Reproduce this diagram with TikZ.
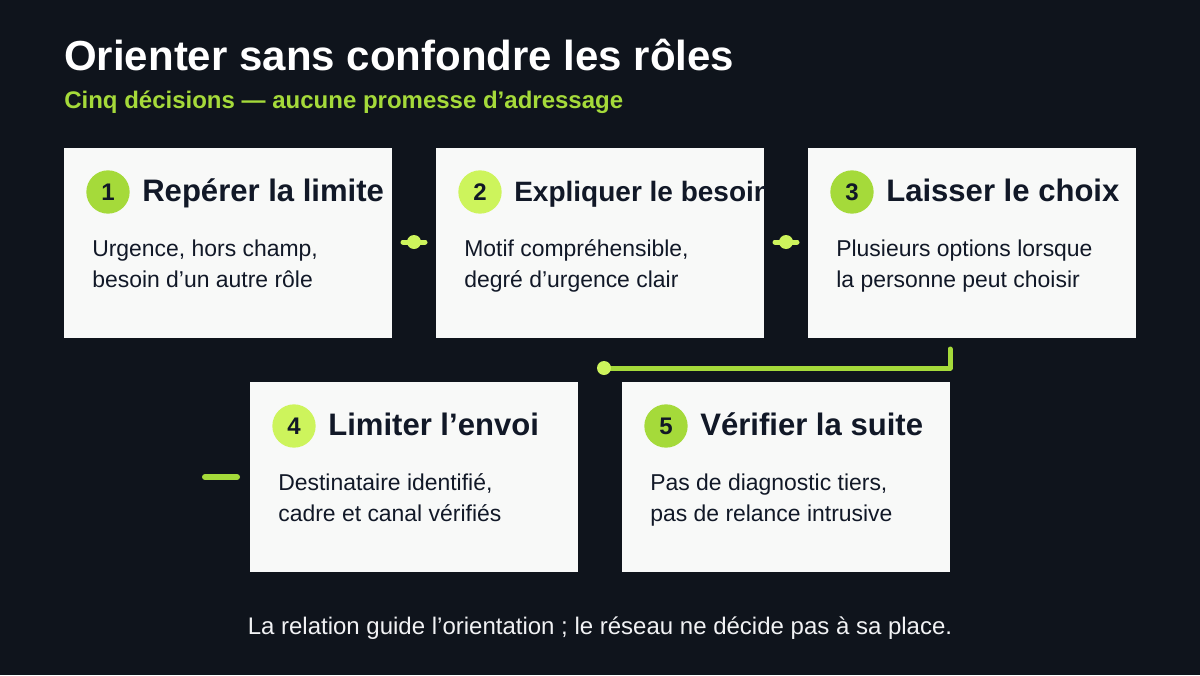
\documentclass[tikz,border=0pt]{standalone}
\usepackage{fontspec}
\setmainfont{Liberation Sans}
\usetikzlibrary{positioning}

\definecolor{bgnavy}{HTML}{0F141C}
\definecolor{cardwhite}{HTML}{F8F9F8}
\definecolor{inkdark}{HTML}{111827}
\definecolor{limedark}{HTML}{A5DA3A}
\definecolor{limelight}{HTML}{CDF45C}
\definecolor{footgray}{HTML}{F1F2F4}

\tikzset{every picture/.style={line width=0.45pt},
  card/.style={fill=cardwhite, draw=none, inner sep=0pt, minimum width=246pt, minimum height=142.5pt, anchor=north west},
  badge/.style={circle, inner sep=0pt, minimum size=32.5pt, text=inkdark, font=\fontsize{18}{18}\selectfont\bfseries},
  steptitle/.style={anchor=base west, inner sep=0pt, text=inkdark, font=\fontsize{23.3}{23.3}\selectfont\bfseries},
  stepbody/.style={anchor=base west, inner sep=0pt, text=inkdark, font=\fontsize{17.2}{17.2}\selectfont},
  link/.style={line width=3.75pt, line cap=round, line join=round},
  linkdot/.style={circle, inner sep=0pt, minimum size=10.5pt, fill=limelight}
}

\begin{document}
\begin{tikzpicture}[x=0.75pt,y=0.75pt,yscale=-1,xscale=1]
%background, sets the 1200 x 675 frame
\path [fill=bgnavy] (0,0) rectangle (1200,675);

% Title Nodes
\node (title) [anchor=base west, inner sep=0pt, text=white, font=\fontsize{31.5}{31.5}\selectfont\bfseries] at (64,70) {Orienter sans confondre les rôles};
\node (subtitle) [anchor=base west, inner sep=0pt, text=limedark, font=\fontsize{18}{18}\selectfont\bfseries] at (64,108) {Cinq décisions — aucune promesse d’adressage};

% Cards
\node (b1) [card] at (64,148) {};
\node (b2) [card] at (436,148) {};
\node (b3) [card] at (808,148) {};
\node (b4) [card] at (250,382) {};
\node (b5) [card] at (622,382) {};

% Connectors
\coordinate (c12a) at (403,242);
\coordinate (c12b) at (425,242);
\draw [link, limelight] (c12a) -- (c12b);
\node (d12) [linkdot] at (414,242) {};
\coordinate (c23a) at (775,242);
\coordinate (c23b) at (797,242);
\draw [link, limelight] (c23a) -- (c23b);
\node (d23) [linkdot] at (786,242) {};
\coordinate (c34a) at (950,349);
\coordinate (c34b) at (950,368);
\coordinate (c34c) at (604,368);
\draw [link, limedark] (c34a) -- (c34b) -- (c34c);
\node (d34) [linkdot] at (c34c) {};
\coordinate (s4a) at (205,477);
\coordinate (s4b) at (237,477);
\draw [link, line width=4.5pt, limedark] (s4a) -- (s4b);

% Step 1
\node (n1) [badge, fill=limedark] at (108,192) {1};
\node (h1) [steptitle] at (142,201) {Repérer la limite};
\node (t1a) [stepbody] at (92,256) {Urgence, hors champ,};
\node (t1b) [stepbody] at (92,287) {besoin d’un autre rôle};

% Step 2
\node (n2) [badge, fill=limelight] at (480,192) {2};
\begin{scope}
\clip (b2.north west) rectangle (b2.south east);
\node (h2) [steptitle, font=\fontsize{21}{21}\selectfont\bfseries] at (514,201) {Expliquer le besoin};
\end{scope}
\node (t2a) [stepbody] at (464,256) {Motif compréhensible,};
\node (t2b) [stepbody] at (464,287) {degré d’urgence clair};

% Step 3
\node (n3) [badge, fill=limedark] at (852,192) {3};
\node (h3) [steptitle] at (886,201) {Laisser le choix};
\node (t3a) [stepbody] at (836,256) {Plusieurs options lorsque};
\node (t3b) [stepbody] at (836,287) {la personne peut choisir};

% Step 4
\node (n4) [badge, fill=limelight] at (294,426) {4};
\node (h4) [steptitle] at (328,435) {Limiter l’envoi};
\node (t4a) [stepbody] at (278,490) {Destinataire identifié,};
\node (t4b) [stepbody] at (278,521) {cadre et canal vérifiés};

% Step 5
\node (n5) [badge, fill=limedark] at (666,426) {5};
\node (h5) [steptitle] at (700,435) {Vérifier la suite};
\node (t5a) [stepbody] at (650,490) {Pas de diagnostic tiers,};
\node (t5b) [stepbody] at (650,521) {pas de relance intrusive};

% Footer
\node (foot) [anchor=base, inner sep=0pt, text=footgray, font=\fontsize{18}{18}\selectfont] at (600,634) {La relation guide l’orientation ; le réseau ne décide pas à sa place.};

\end{tikzpicture}
\end{document}
